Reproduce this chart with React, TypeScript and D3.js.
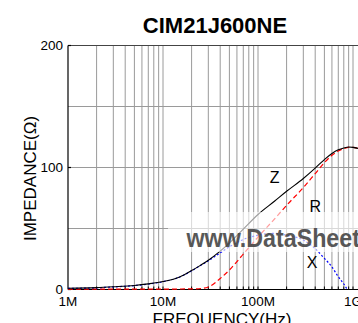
import React from "react";
import * as d3 from "d3";

const freqMHz = [1, 2, 3, 5, 7, 10, 15, 20, 25, 30, 40, 50, 70, 100, 150, 200, 300, 400, 500, 600, 700, 800, 900, 1000, 1150];
const zValues = [1.0, 1.5, 2.2, 3.3, 4.6, 6.5, 10.3, 15.5, 20, 24, 31.5, 38, 49.5, 61.5, 72.5, 80.5, 91, 99.5, 106.5, 111.5, 114.5, 116, 116.8, 116.5, 115.5];
const rValues = [0.3, 0.3, 0.3, 0.3, 0.3, 0.3, 0.4, 0.5, 0.8, 2, 9, 16, 29, 43, 58, 69, 83.5, 95, 104, 110, 113.5, 115.5, 116.5, 116.5, 115.5];
const xFreqMHz = [1, 2, 3, 5, 7, 10, 15, 20, 25, 30, 40, 50, 70, 100, 150, 200, 300, 400, 500, 600, 700, 800, 870];
const xValues = [0.9, 1.4, 2.1, 3.2, 4.5, 6.4, 10.2, 15.3, 19.8, 23.5, 30, 35, 41, 44.5, 46, 44.5, 40.5, 33.5, 25.5, 18.5, 10.5, 4.5, 0];
const yTicks = [0, 100, 200];
const yGrid = [50, 100, 150];
const xTickLabels = [
  { f: 1, label: "1M" },
  { f: 10, label: "10M" },
  { f: 100, label: "100M" },
  { f: 1000, label: "1G" },
];
const curveLabels = [
  { text: "Z", f: 150, v: 92 },
  { text: "R", f: 400, v: 68 },
  { text: "X", f: 370, v: 22 },
];

const FONT = "'Liberation Sans', Arial, Helvetica, sans-serif";

export default function App() {
  const W = 358;
  const H = 323;
  const left = 68;
  const top = 45.5;
  const bottom = 289.5;
  const x = d3.scaleLog().domain([1, 1000]).range([left, 353]);
  const y = d3.scaleLinear().domain([0, 200]).range([bottom, top]);

  const gridF: number[] = [];
  for (let dec = 1; dec <= 1000; dec *= 10) {
    for (let m = 1; m <= 9; m++) {
      const f = dec * m;
      if (f > 1) gridF.push(f);
    }
  }

  const line = d3
    .line<[number, number]>()
    .x((d) => x(d[0]))
    .y((d) => y(d[1]))
    .curve(d3.curveMonotoneX);

  const zPath = line(freqMHz.map((f, i) => [f, zValues[i]] as [number, number])) || "";
  const rPath = line(freqMHz.map((f, i) => [f, rValues[i]] as [number, number])) || "";
  const xPath = line(xFreqMHz.map((f, i) => [f, xValues[i]] as [number, number])) || "";

  return (
    <svg
      width={W}
      height={H}
      style={{ position: "absolute", left: 0, top: 0, background: "#fff" }}
      fontFamily={FONT}
    >
      <rect x={0} y={0} width={W} height={H} fill="#fff" />
      {/* grid */}
      {gridF.map((f) => (
        <line
          key={"vg" + f}
          x1={x(f)}
          x2={x(f)}
          y1={top}
          y2={bottom}
          stroke="#9a9a9a"
          strokeWidth={1}
        />
      ))}
      {yGrid.map((v) => (
        <line key={"hg" + v} x1={left} x2={W} y1={y(v)} y2={y(v)} stroke="#9a9a9a" strokeWidth={1} />
      ))}
      {/* frame */}
      <line x1={left} x2={W} y1={top} y2={top} stroke="#444" strokeWidth={1.2} />
      <line x1={left} x2={left} y1={top} y2={bottom} stroke="#000" strokeWidth={1.2} />
      <line x1={left} x2={W} y1={bottom} y2={bottom} stroke="#000" strokeWidth={1.2} />
      {yTicks.map((v) => (
        <line key={"yt" + v} x1={left} x2={left + 3} y1={y(v)} y2={y(v)} stroke="#000" strokeWidth={1.2} />
      ))}
      {gridF.map((f) => (
        <line key={"xt" + f} x1={x(f)} x2={x(f)} y1={bottom} y2={bottom - 3} stroke="#000" strokeWidth={1} />
      ))}
      {/* curves */}
      <path d={rPath} fill="none" stroke="#ff0000" strokeWidth={1.2} strokeDasharray="5,3" />
      <path d={xPath} fill="none" stroke="#0000ff" strokeWidth={1.2} strokeDasharray="2,2" />
      <path d={zPath} fill="none" stroke="#000" strokeWidth={1.1} />
      {/* curve labels */}
      {curveLabels.map((c) => (
        <text key={c.text} x={x(c.f)} y={y(c.v)} fontSize={16} textAnchor="middle" dominantBaseline="central" fill="#000">
          {c.text}
        </text>
      ))}
      {/* watermark */}
      <rect x={168} y={212} width={W - 168} height={40} fill="#fff" opacity={0.62} />
      <text
        transform="translate(186.5,246.5) scale(0.93,1)"
        fontSize={25}
        fontWeight="bold"
        fill="#3c3c3c"
        opacity={0.85}
      >
        www.DataSheet
      </text>
      {/* y tick labels */}
      {yTicks.map((v) => (
        <text key={"yl" + v} x={63} y={y(v)} fontSize={13.5} textAnchor="end" dominantBaseline="central" fill="#000">
          {v}
        </text>
      ))}
      {/* x tick labels */}
      {xTickLabels.map((t) => (
        <text key={"xl" + t.label} x={x(t.f)} y={306} fontSize={13.5} textAnchor="middle" fill="#000">
          {t.label}
        </text>
      ))}
      {/* axis titles */}
      <text x={222} y={325} fontSize={17} textAnchor="middle" fill="#000">
        FREQUENCY(Hz)
      </text>
      <text
        transform="translate(36,178.5) rotate(-90)"
        fontSize={17}
        textAnchor="middle"
        fill="#000"
      >
        IMPEDANCE(Ω)
      </text>
      {/* title */}
      <text x={215} y={33} fontSize={22} fontWeight="bold" textAnchor="middle" fill="#000">
        CIM21J600NE
      </text>
    </svg>
  );
}
